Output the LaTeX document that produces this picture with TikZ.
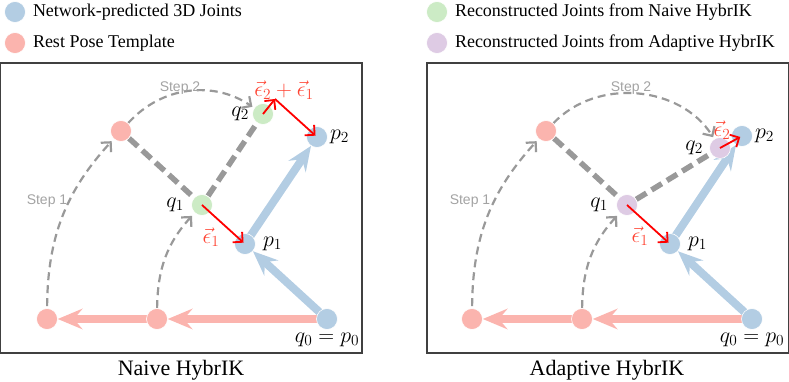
\RequirePackage{fix-cm}
\documentclass[tikz,border=0pt]{standalone}
\usepackage[no-math]{fontspec}
\setmainfont{Liberation Serif}
\setsansfont{Liberation Sans}
\usepackage{xcolor}
\definecolor{jointblue}{HTML}{B3CDE3}
\definecolor{restred}{HTML}{FBB4AE}
\definecolor{naivegreen}{HTML}{CCEBC5}
\definecolor{adaptpurple}{HTML}{DECBE4}
\definecolor{linkgray}{HTML}{999999}
\definecolor{steptext}{HTML}{A3A3A3}
\definecolor{epsred}{HTML}{FF4433}
\definecolor{frameedge}{HTML}{404040}
\usepackage{tikz}
\usetikzlibrary{arrows.meta, positioning, backgrounds}

\begin{document}
\begin{tikzpicture}[
  x=1pt, y=1pt,
  J/.style={circle, fill=#1, draw=white, line width=0.6pt, minimum size=21pt, inner sep=0pt},
  mathlbl/.style={inner sep=0pt, font=\fontsize{22}{24}\selectfont},
  eps/.style={mathlbl, text=epsred},
  legtxt/.style={inner sep=0pt, font=\fontsize{18}{20}\selectfont},
  captxt/.style={inner sep=0pt, font=\fontsize{22}{24}\selectfont},
  steplbl/.style={inner sep=0pt, text=steptext, font=\fontsize{14}{16}\selectfont\sffamily},
  bone/.style={-{Stealth[length=25pt, width=21pt, inset=9pt, line width=0pt]}, line width=8pt, draw=#1},
  link/.style={draw=linkgray, line width=5.5pt, dash pattern=on 12pt off 6pt},
  rotarc/.style={-{Straight Barb[length=7pt, width=14pt]}, draw=linkgray, line width=2.2pt, dash pattern=on 8pt off 5pt},
  err/.style={-{Straight Barb[length=7pt, width=14pt]}, draw=red, line width=1.8pt},
  panel/.style={draw=frameedge, line width=1.2pt}
]
  \useasboundingbox (0,0) rectangle (789,382);

  % legend
  \node[J=jointblue] (legp) at (15,370) {};
  \node[legtxt, right=7pt of legp] (legpt) {Network-predicted 3D Joints};
  \node[J=restred] (legt) at (15,339) {};
  \node[legtxt, right=7pt of legt] (legtt) {Rest Pose Template};
  \node[J=naivegreen] (legq) at (437,370) {};
  \node[legtxt, right=7pt of legq] (legqt) {Reconstructed Joints from Naive HybrIK};
  \node[J=adaptpurple] (lega) at (437,339) {};
  \node[legtxt, right=7pt of lega] (legat) {Reconstructed Joints from Adaptive HybrIK};

  \draw[panel] (0.6,29) rectangle (362,319);
  \draw[panel] (427,29) rectangle (788.4,319);

  % naive HybrIK
  \node[J=restred] (nvt0) at (47,63) {};
  \node[J=restred] (nvt1) at (157,63) {};
  \node[J=restred] (nvt2) at (121,251) {};
  \node[J=jointblue] (nvp0) at (327,63) {};
  \node[J=jointblue] (nvp1) at (245,138) {};
  \node[J=jointblue] (nvp2) at (317,245) {};
  \node[J=naivegreen] (nvq1) at (202,177) {};
  \node[J=naivegreen] (nvq2) at (263,268) {};
  \coordinate (nvc) at (275,283);

  % adaptive HybrIK
  \node[J=restred] (adt0) at (472,63) {};
  \node[J=restred] (adt1) at (582,63) {};
  \node[J=restred] (adt2) at (546,251) {};
  \node[J=jointblue] (adp0) at (752,63) {};
  \node[J=jointblue] (adp1) at (670,138) {};
  \node[J=jointblue] (adp2) at (742,246) {};
  \node[J=adaptpurple] (adq1) at (627,177) {};
  \node[J=adaptpurple] (adq2) at (720,234) {};

  \begin{pgfonlayer}{background}
    \foreach \pn/\bb in {nv/41, ad/52} {
      \draw[bone=restred] (\pn p0.center) -- (\pn t1);
      \draw[bone=restred] (\pn t1.center) -- (\pn t0);
      \draw[bone=jointblue] (\pn p0.center) -- (\pn p1);
      \draw[bone=jointblue] (\pn p1.center) -- (\pn p2);
      \draw[link] (\pn t2) -- (\pn q1) -- (\pn q2);
      \draw[rotarc, shorten <=2pt, shorten >=3pt] (\pn t0) to[bend left=21] (\pn t2);
      \draw[rotarc, shorten >=4pt] (\pn t1) to[bend left=21] (\pn q1);
      \draw[rotarc, shorten >=2pt] (\pn t2) to[bend left=\bb] (\pn q2);
    }
  \end{pgfonlayer}

  \draw[err, shorten >=2pt] (nvq1.center) -- (nvp1.center);
  \draw[err] (nvq2.center) -- (nvc);
  \draw[err, shorten >=2pt] (nvc) -- (nvp2.center);
  \draw[err, shorten >=2pt] (adq1.center) -- (adp1.center);
  \draw[err, shorten >=2pt] (adq2.center) -- (adp2.center);

  \node[mathlbl, left=3pt of nvq2] (nvq2l) {$q_2$};
  \node[mathlbl, right=2pt of nvp2] (nvp2l) {$p_2$};
  \node[mathlbl, left=7pt of nvq1] (nvq1l) {$q_1$};
  \node[mathlbl, right=7pt of nvp1] (nvp1l) {$p_1$};
  \node[mathlbl, below=3pt of nvp0] (nvp0l) {$q_0 = p_0$};
  \node[eps] (nve2) at (284,292) {$\vec{\epsilon}_2 + \vec{\epsilon}_1$};
  \node[eps] (nve1) at (211,145) {$\vec{\epsilon}_1$};
  \node[steplbl] (nvs1) at (47,181) {Step 1};
  \node[steplbl] (nvs2) at (180,294) {Step 2};

  \node[mathlbl, left=6pt of adq2] (adq2l) {$q_2$};
  \node[mathlbl, right=2pt of adp2] (adp2l) {$p_2$};
  \node[mathlbl, left=8pt of adq1] (adq1l) {$q_1$};
  \node[mathlbl, right=7pt of adp1] (adp1l) {$p_1$};
  \node[mathlbl, below=3pt of adp0] (adp0l) {$q_0 = p_0$};
  \node[eps] (ade2) at (722,252) {$\vec{\epsilon}_2$};
  \node[eps] (ade1) at (640,146) {$\vec{\epsilon}_1$};
  \node[steplbl] (ads1) at (470,181) {Step 1};
  \node[steplbl] (ads2) at (631,294) {Step 2};

  \node[captxt] (nvcap) at (181,12) {Naive HybrIK};
  \node[captxt] (adcap) at (607,12) {Adaptive HybrIK};
\end{tikzpicture}
\end{document}
